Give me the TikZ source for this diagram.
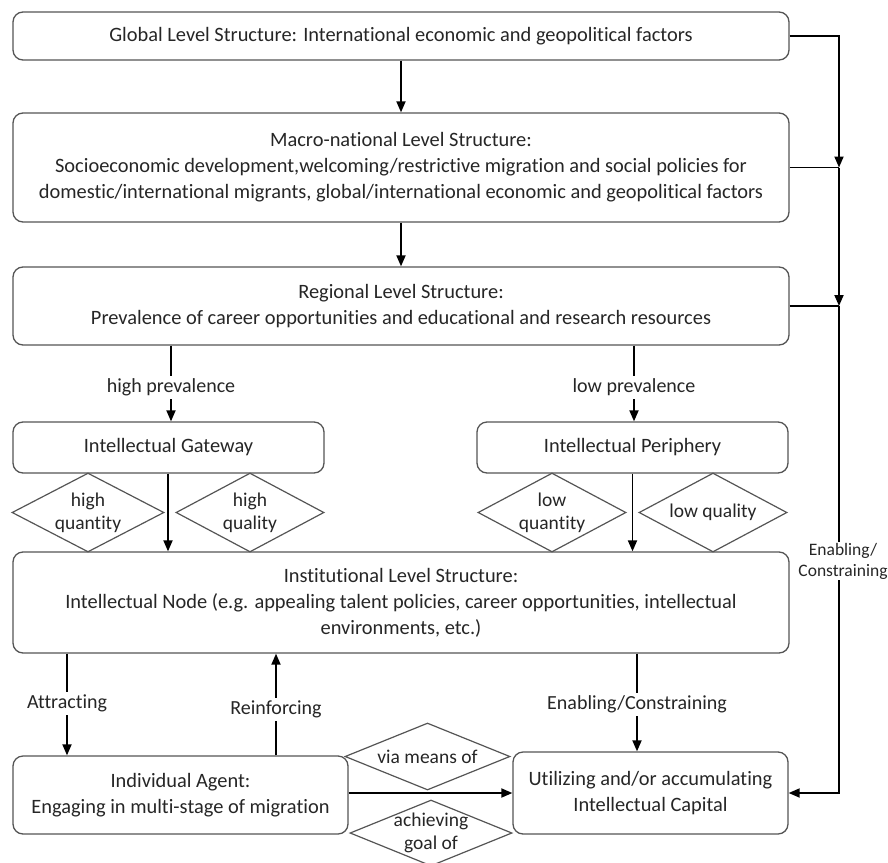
\documentclass[tikz,border=0pt]{standalone}
\usepackage{fontspec}
\setmainfont{Carlito}[Ligatures={NoCommon,NoRare}]
\usetikzlibrary{shapes.geometric,arrows.meta}
\definecolor{boxc}{HTML}{555555}
\definecolor{txtc}{HTML}{262626}
\begin{document}
\begin{tikzpicture}[x=1pt,y=-1pt,
  box/.style={draw=boxc, line width=1.3pt, rounded corners=10pt, align=center, inner sep=0pt, text=txtc, font=\fontsize{20.4}{26}\selectfont},
  dia/.style={draw=boxc, line width=1.2pt, diamond, inner sep=0pt},
  diatext/.style={align=center, text=txtc, font=\fontsize{19.5}{23}\selectfont, inner sep=0pt},
  arr/.style={line width=1.8pt, -{Triangle[length=11pt,width=9pt]}},
  ln/.style={line width=1.5pt},
  lab/.style={fill=white, text=txtc, font=\fontsize{20}{22}\selectfont, inner sep=3pt, align=center}]
\useasboundingbox (0,0) rectangle (888,862);
\fill[white] (0,0) rectangle (888,862);

% boxes
\node[box, minimum width=776pt, minimum height=48pt] (glob) at (401,36)
  {Global Level Structure: International economic and geopolitical factors};
\node[box, minimum width=776pt, minimum height=109pt] (macro) at (401,167.5)
  {Macro-national Level Structure:\\Socioeconomic development,welcoming/restrictive migration and social policies for\\domestic/international migrants, global/international economic and geopolitical factors};
\node[box, minimum width=776pt, minimum height=78pt] (reg) at (401,306)
  {Regional Level Structure:\\Prevalence of career opportunities and educational and research resources};
\node[box, minimum width=311pt, minimum height=51pt] (gate) at (168.5,447.5) {Intellectual Gateway};
\node[box, minimum width=311pt, minimum height=51pt] (peri) at (632.5,447.5) {Intellectual Periphery};
\node[box, minimum width=776pt, minimum height=101pt] (inst) at (401,602.5)
  {Institutional Level Structure:\\Intellectual Node (e.g. appealing talent policies, career opportunities, intellectual\\environments, etc.)};
\node[box, minimum width=335pt, minimum height=78pt] (indiv) at (180.5,795)
  {Individual Agent:\\Engaging in multi-stage of migration};
\node[box, minimum width=275pt, minimum height=82pt] (util) at (650.5,793)
  {Utilizing and/or accumulating\\Intellectual Capital};

% diamonds
\node[dia, minimum width=152pt, minimum height=79pt, label={[diatext]center:high\\quantity}] (hq1) at (88,512.5) {};
\node[dia, minimum width=148pt, minimum height=79pt, label={[diatext]center:high\\quality}] (hq2) at (250,512.5) {};
\node[dia, minimum width=148pt, minimum height=79pt, label={[diatext]center:low\\quantity}] (lq1) at (552,512.5) {};
\node[dia, minimum width=148pt, minimum height=79pt, label={[diatext]center:low quality}] (lq2) at (713,512.5) {};
\node[dia, minimum width=165pt, minimum height=67pt, label={[diatext]center:via means of}] (via) at (427.5,756.5) {};
\node[dia, minimum width=162pt, minimum height=66pt, label={[diatext]center:achieving\\goal of}] (ach) at (431,833) {};

% vertical main arrows
\draw[arr] (glob.south) -- (macro.north);
\draw[arr] (macro.south) -- (reg.north);
\coordinate (hp) at (171,0);
\coordinate (lp) at (634,0);
\draw[arr] (reg.south -| hp) -- node[lab, pos=0.55]{high prevalence} (gate.north -| hp);
\draw[arr] (reg.south -| lp) -- node[lab, pos=0.55]{low prevalence} (peri.north -| lp);
\coordinate (gc) at (168,0);
\draw[arr] (gate.south -| gc) -- (inst.north -| gc);
\draw[arr] (peri.south) -- (inst.north -| peri.south);

\coordinate (ax) at (67,0);
\coordinate (rx) at (276,0);
\coordinate (ex) at (637,0);
\draw[arr] (inst.south -| ax) -- node[lab, pos=0.49]{Attracting} (indiv.north -| ax);
\draw[arr] (indiv.north -| rx) -- node[lab, pos=0.45]{Reinforcing} (inst.south -| rx);
\draw[arr] (inst.south -| ex) -- node[lab, pos=0.52]{Enabling/Constraining} (util.north -| ex);
\draw[arr] (util.west -| indiv.east) -- (util.west);

% right-side feedback line
\coordinate (rt) at (839,0);
\coordinate (m1) at (macro.east -| rt);
\coordinate (m2) at (reg.east -| rt);
\node[lab, fill=none, inner sep=1pt, font=\fontsize{17.5}{21}\selectfont] (en) at (843,561) {Enabling/\\Constraining};
\draw[ln] (macro.east) -- (m1);
\draw[ln] (reg.east) -- (m2);
\draw[arr] (glob.east) -| (m1);
\draw[arr] (m1) -- (m2);
\draw[ln, line width=1.8pt] (m2) -- (en.north -| rt);
\draw[arr] (en.south -| rt) |- (util.east);
\end{tikzpicture}
\end{document}
